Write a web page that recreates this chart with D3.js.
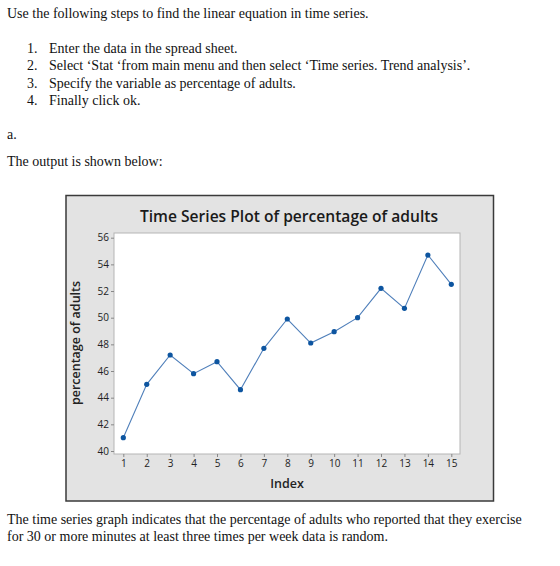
<!DOCTYPE html>
<head>
    <title>Time Series Plot of percentage of adults</title>
    <script src="https://cdn.jsdelivr.net/npm/d3@7/dist/d3.min.js"></script>
    <style>
      body { margin: 0; background: #fff; }
    </style>
</head>
<body>
<div id="container"></div>
<script>

// Données
const indices = [1, 2, 3, 4, 5, 6, 7, 8, 9, 10, 11, 12, 13, 14, 15];
const percentages = [41.0, 45.0, 47.2, 45.8, 46.7, 44.6, 47.7, 49.9, 48.1, 48.95, 50.0, 52.2, 50.7, 54.7, 52.5];
const yTicks = [40, 42, 44, 46, 48, 50, 52, 54, 56];

// Textes autour du graphique
const introLine = "Use the following steps to find the linear equation in time series.";
const steps = [
  "Enter the data in the spread sheet.",
  "Select \u2018Stat \u2018from main menu and then select \u2018Time series. Trend analysis\u2019.",
  "Specify the variable as percentage of adults.",
  "Finally click ok."
];
const outroLines = [
  "The time series graph indicates that the percentage of adults who reported that they exercise",
  "for 30 or more minutes at least three times per week data is random."
];

const data = indices.map((d, i) => ({ index: d, value: percentages[i] }));

const svg = d3.select("#container")
  .append("svg")
  .attr("width", 560)
  .attr("height", 566);

const serif = "'Liberation Serif', 'Times New Roman', serif";
const sans = "'Open Sans', 'Noto Sans', sans-serif";

// Texte du haut
const txt = svg.append("g")
  .style("font-family", serif)
  .style("font-size", "14px")
  .style("fill", "#111");

txt.append("text").attr("x", 7).attr("y", 18).text(introLine);

steps.forEach((s, i) => {
  const yy = 53 + i * 17.3;
  txt.append("text").attr("x", 27).attr("y", yy).text(`${i + 1}.`);
  txt.append("text").attr("x", 49).attr("y", yy).text(s);
});

txt.append("text").attr("x", 7).attr("y", 139).text("a.");
txt.append("text").attr("x", 7).attr("y", 166).text("The output is shown below:");

outroLines.forEach((l, i) => {
  txt.append("text").attr("x", 7).attr("y", 524 + i * 17).text(l);
});

// Cadre gris Minitab
svg.append("rect")
  .attr("x", 66).attr("y", 195.5)
  .attr("width", 427.5).attr("height", 305.5)
  .attr("fill", "#e3e3e3")
  .attr("stroke", "#3a3a3a")
  .attr("stroke-width", 1.5);

// Zone du tracé
const plotLeft = 114, plotRight = 460, plotTop = 233, plotBottom = 454;

svg.append("rect")
  .attr("x", plotLeft).attr("y", plotTop)
  .attr("width", plotRight - plotLeft).attr("height", plotBottom - plotTop)
  .attr("fill", "#fff")
  .attr("stroke", "#b5b5b5")
  .attr("stroke-width", 1);

// Échelles
const x = d3.scaleLinear().domain([1, 15]).range([123.3, 451.3]);
const y = d3.scaleLinear().domain([40, 56]).range([451, 237.7]);

// Axe X
const xAxis = svg.append("g")
  .attr("transform", `translate(0,${plotBottom})`)
  .call(d3.axisBottom(x).tickValues(indices).tickSize(3).tickPadding(3).tickFormat(d3.format("d")));
xAxis.select(".domain").remove();
xAxis.selectAll("line").attr("stroke", "#888");
xAxis.selectAll("text")
  .style("font-family", sans)
  .style("font-size", "10px")
  .attr("fill", "#222");

// Axe Y
const yAxis = svg.append("g")
  .attr("transform", `translate(${plotLeft},0)`)
  .call(d3.axisLeft(y).tickValues(yTicks).tickSize(3).tickPadding(2));
yAxis.select(".domain").remove();
yAxis.selectAll("line").attr("stroke", "#888");
yAxis.selectAll("text")
  .style("font-family", sans)
  .style("font-size", "10px")
  .attr("fill", "#222");

// Titre
svg.append("text")
  .attr("x", 289).attr("y", 222)
  .attr("text-anchor", "middle")
  .style("font-family", sans)
  .style("font-weight", 600)
  .style("font-size", "15.6px")
  .attr("fill", "#1a1a1a")
  .text("Time Series Plot of percentage of adults");

// Titres des axes
svg.append("text")
  .attr("x", 287).attr("y", 488)
  .attr("text-anchor", "middle")
  .style("font-family", sans)
  .style("font-weight", 600)
  .style("font-size", "12.5px")
  .attr("fill", "#222")
  .text("Index");

svg.append("text")
  .attr("transform", "translate(80,343) rotate(-90)")
  .attr("text-anchor", "middle")
  .style("font-family", sans)
  .style("font-weight", 600)
  .style("font-size", "12.5px")
  .attr("fill", "#222")
  .text("percentage of adults");

// Ligne
const line = d3.line()
  .x(d => x(d.index))
  .y(d => y(d.value));

svg.append("path")
  .datum(data)
  .attr("d", line)
  .attr("fill", "none")
  .attr("stroke", "#4f7fba")
  .attr("stroke-width", 1.1);

// Points
svg.selectAll(".pt")
  .data(data)
  .enter().append("circle")
  .attr("class", "pt")
  .attr("cx", d => x(d.index))
  .attr("cy", d => y(d.value))
  .attr("r", 2.6)
  .attr("fill", "#0d55a0");

</script>
</body>
